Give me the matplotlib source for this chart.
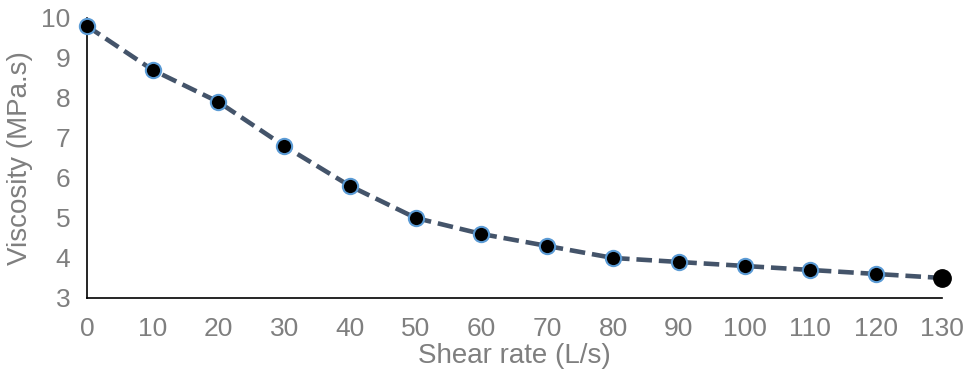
import numpy as np
import matplotlib.pyplot as plt

# Viskositet mot skjærrate
shear_rate = [0, 10, 20, 30, 40, 50, 60, 70, 80, 90, 100, 110, 120, 130]
viscosity = [9.8, 8.7, 7.9, 6.8, 5.8, 5.0, 4.6, 4.3, 4.0, 3.9, 3.8, 3.7, 3.6, 3.5]

x_ticks = np.arange(0, 131, 10)
y_ticks = np.arange(3, 11, 1)

plt.rcParams['font.family'] = ['Liberation Sans', 'DejaVu Sans']
grey = '#7f7f7f'

fig = plt.figure(figsize=(9.76, 3.82), dpi=100)
ax = fig.add_axes([0.089, 0.22, 0.876, 0.733])

# Linja og punkta (siste punkt utan blå kant)
ax.plot(shear_rate, viscosity, linestyle=(0, (3.4, 1.5)), color='#44546A', lw=3.3,
        zorder=2, clip_on=False)
ax.plot(shear_rate[:-1], viscosity[:-1], 'o', ms=11, mfc='black', mec='#5B9BD5', mew=1.5,
        zorder=3, clip_on=False)
ax.plot(shear_rate[-1:], viscosity[-1:], 'o', ms=12.5, mfc='black', mec='black',
        zorder=3, clip_on=False)

ax.set_xlim(0, 130)
ax.set_ylim(3, 10)
ax.set_xticks(x_ticks)
ax.set_yticks(y_ticks)
ax.tick_params(axis='x', length=0, labelsize=19, labelcolor=grey, pad=14)
ax.tick_params(axis='y', length=0, labelsize=19, labelcolor=grey, pad=12)

for s in ['top', 'right']:
    ax.spines[s].set_visible(False)
for s in ['left', 'bottom']:
    ax.spines[s].set_linewidth(1.2)
    ax.spines[s].set_color('black')
    ax.spines[s].set_zorder(1)

ax.set_xlabel('Shear rate (L/s)', fontsize=20, color=grey, labelpad=1)
ax.set_ylabel('Viscosity (MPa.s)', fontsize=20, color=grey, labelpad=6)

fig.savefig('out.png', dpi=100)
